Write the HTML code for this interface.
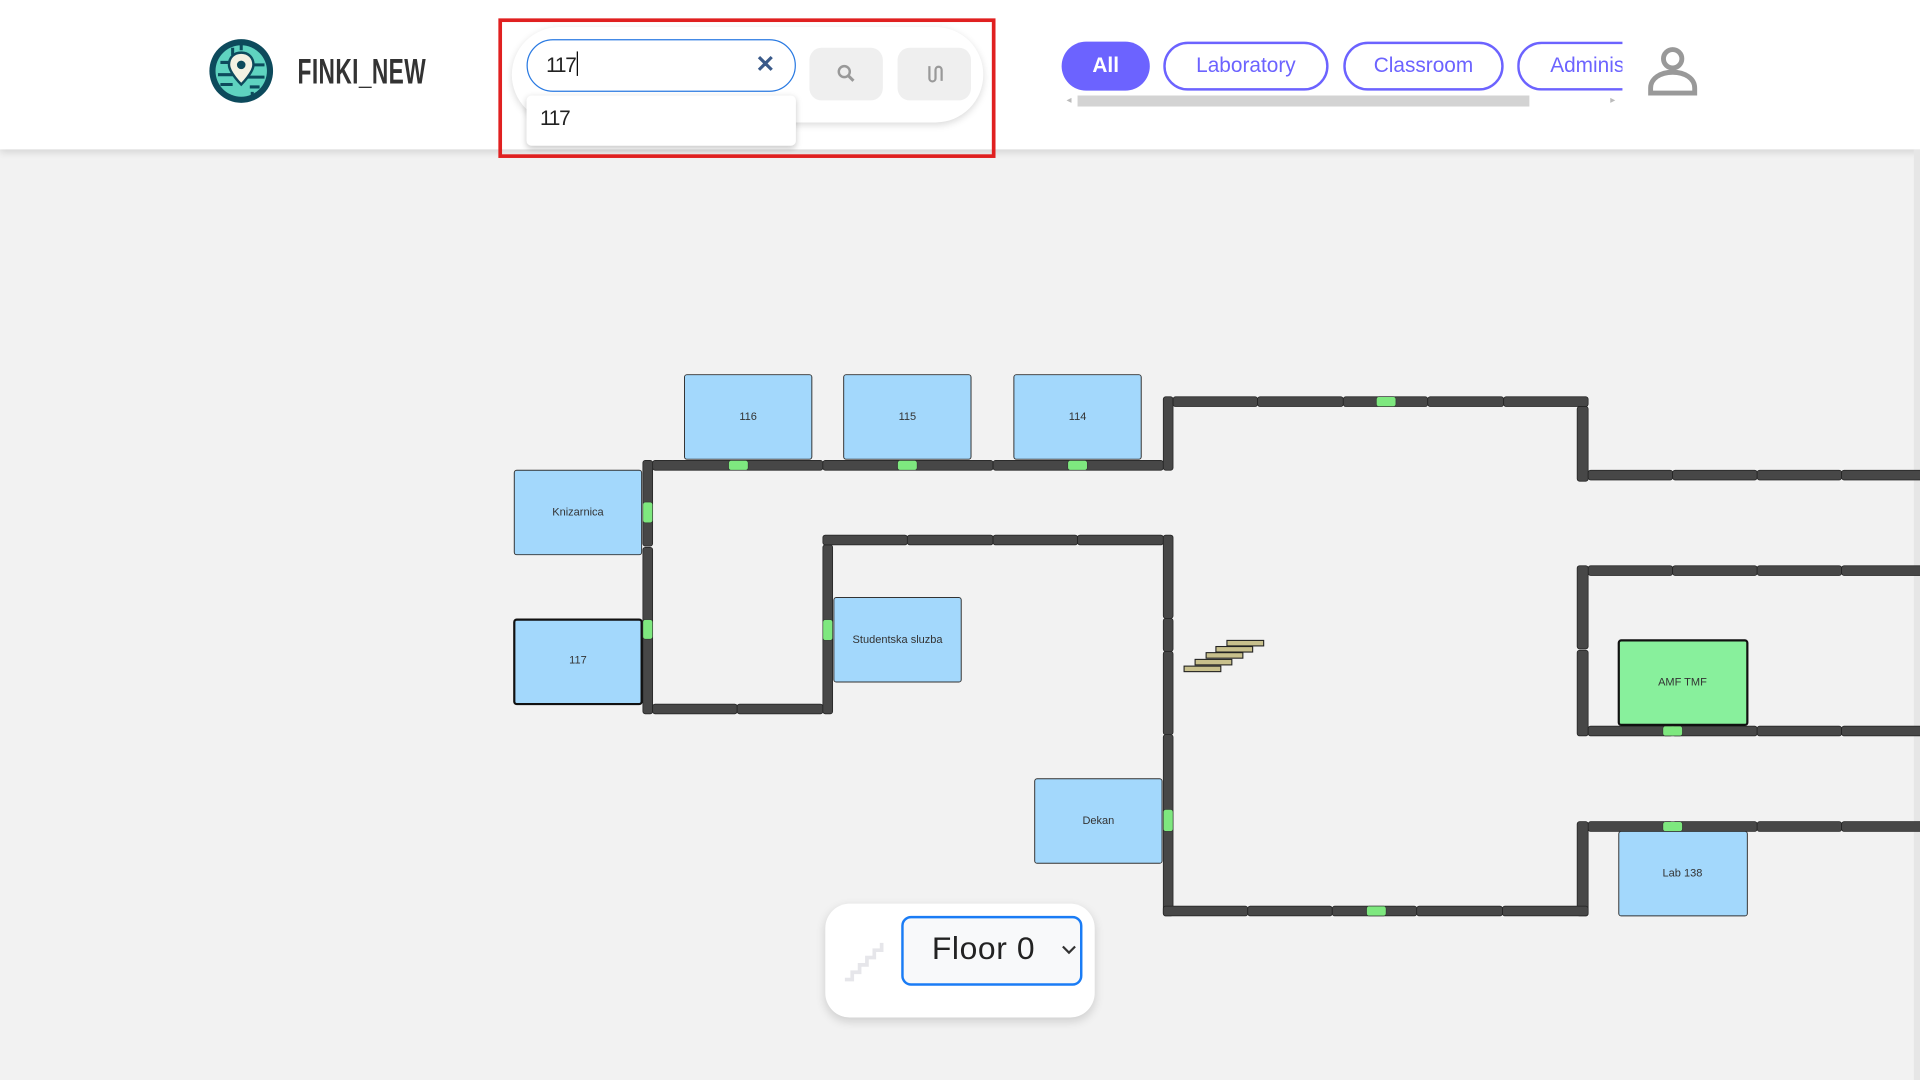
<!DOCTYPE html>
<html><head><meta charset="utf-8">
<style>
html,body{margin:0;padding:0;width:1920px;height:1080px;overflow:hidden;background:#f2f2f2;font-family:"Liberation Sans",sans-serif;}
#w{position:absolute;left:0;top:0;width:1568px;height:882px;transform:scale(1.2244898);transform-origin:0 0;}
.hdr{position:absolute;left:0;top:0;width:1568px;height:122px;background:#fff;box-shadow:0 3px 6px rgba(0,0,0,.12);}
.abs{position:absolute;}
.pill{position:absolute;top:34px;height:36px;border:2px solid #6c63ff;border-radius:21px;color:#6c63ff;font-size:17px;line-height:36px;text-align:center;box-sizing:content-box;}
</style></head><body>
<div id="w">
<div class="hdr"></div>
<svg class="abs" style="left:170px;top:31px" width="54" height="54" viewBox="0 0 54 54">
<circle cx="27" cy="27" r="26" fill="#0d4a5c"/>
<circle cx="27" cy="27" r="21" fill="#5fd3c0"/>
<path d="M10 20h12M8 30h14M10 38h10M34 22h12M32 32h14M34 40h8M27 4v6M20 8v6M36 44v6" stroke="#0d4a5c" stroke-width="2.5"/>
<path d="M27 12c-6 0-10 4-10 10 0 6 10 16 10 16s10-10 10-16c0-6-4-10-10-10z" fill="#f3f1e2" stroke="#0d4a5c" stroke-width="2"/>
<circle cx="27" cy="22" r="3.5" fill="#0d4a5c"/>
</svg>
<div class="abs" style="left:243px;top:43px;font-size:29px;font-weight:bold;color:#333;transform:scaleX(.64);transform-origin:0 0;letter-spacing:0.5px">FINKI_NEW</div>

<div class="abs" style="left:418px;top:22px;width:385px;height:78px;background:#fff;border-radius:40px;box-shadow:0 2px 6px rgba(0,0,0,.15)"></div>
<div class="abs" style="left:430px;top:32px;width:218px;height:41px;border:1.5px solid #2a7ae2;border-radius:22px;background:#fff"></div>
<div class="abs" style="left:446px;top:42px;font-size:17px;color:#222;letter-spacing:-1px">117<span style="display:inline-block;width:1px;height:20px;background:#000;vertical-align:-3px;margin-left:1px"></span></div>
<div class="abs" style="left:617px;top:42px;font-size:19px;font-weight:bold;color:#3a5a8a">✕</div>
<div class="abs" style="left:430px;top:78px;width:220px;height:41px;background:#fff;border-radius:4px;box-shadow:0 2px 5px rgba(0,0,0,.22)"></div>
<div class="abs" style="left:441px;top:87px;font-size:17px;color:#222;letter-spacing:-1px">117</div>
<div class="abs" style="left:661px;top:39px;width:60px;height:43px;background:#efefef;border-radius:10px"></div>
<svg class="abs" style="left:683px;top:52px" width="16" height="16"><circle cx="6.5" cy="6.5" r="4.5" fill="none" stroke="#999" stroke-width="2"/><path d="M10 10l4 4" stroke="#999" stroke-width="2.5"/></svg>
<div class="abs" style="left:733px;top:39px;width:60px;height:43px;background:#efefef;border-radius:10px"></div>
<svg class="abs" style="left:755px;top:52px" width="16" height="17"><path d="M4 2v10a2.5 2.5 0 0 0 5 0V5a2.5 2.5 0 0 1 5 0v9" fill="none" stroke="#999" stroke-width="1.8"/></svg>
<div class="abs" style="left:407px;top:15px;width:400px;height:108px;border:3px solid #e02020"></div>

<div class="pill" style="left:867px;width:72px;background:#6c63ff;color:#fff;border-color:#6c63ff;border-width:0;height:40px;line-height:40px;font-weight:bold">All</div>
<div class="pill" style="left:950px;width:131px">Laboratory</div>
<div class="pill" style="left:1097px;width:127px">Classroom</div>
<div class="abs" style="left:1239px;top:34px;width:86px;height:40px;overflow:hidden"><div class="pill" style="left:0;top:0;width:120px;text-align:left;text-indent:25px">Administration</div></div>
<div class="abs" style="left:880px;top:78px;width:369px;height:9px;background:#d3d3d3"></div>
<div class="abs" style="left:871px;top:77px;font-size:8px;color:#bbb">◂</div>
<div class="abs" style="left:1315px;top:77px;font-size:8px;color:#bbb">▸</div>
<svg class="abs" style="left:1345px;top:38px" width="42" height="40"><circle cx="21" cy="10" r="7.5" fill="none" stroke="#999" stroke-width="4"/><path d="M3 38v-4c0-8 8-13 18-13s18 5 18 13v4z" fill="none" stroke="#999" stroke-width="4"/></svg>
<div class="abs" style="left:1563px;top:122px;width:5px;height:760px;background:#e6e6e6"></div>

<svg class="abs" style="left:0;top:0" width="1568" height="882">
<g fill="#474747" stroke="#222" stroke-width="0.6">
<rect x="533" y="376" width="139" height="8" rx="2"/><rect x="672" y="376" width="139" height="8" rx="2"/><rect x="811" y="376" width="139" height="8" rx="2"/>
<rect x="525" y="376" width="8" height="70" rx="2"/><rect x="525" y="447" width="8" height="136" rx="2"/>
<rect x="533" y="575" width="69" height="8" rx="2"/><rect x="602" y="575" width="70" height="8" rx="2"/>
<rect x="672" y="445" width="8" height="138" rx="2"/>
<rect x="672" y="437" width="69" height="8" rx="2"/><rect x="741" y="437" width="70" height="8" rx="2"/><rect x="811" y="437" width="69" height="8" rx="2"/><rect x="880" y="437" width="70" height="8" rx="2"/>
<rect x="950" y="437" width="8" height="68" rx="2"/><rect x="950" y="505" width="8" height="27" rx="2"/><rect x="950" y="532" width="8" height="68" rx="2"/><rect x="950" y="600" width="8" height="148" rx="2"/>
<rect x="950" y="324" width="8" height="60" rx="2"/>
<rect x="958" y="324" width="69" height="8" rx="2"/><rect x="1027" y="324" width="70" height="8" rx="2"/><rect x="1097" y="324" width="69" height="8" rx="2"/><rect x="1166" y="324" width="62" height="8" rx="2"/><rect x="1228" y="324" width="69" height="8" rx="2"/>
<rect x="1288" y="332" width="9" height="61" rx="2"/>
<rect x="1297" y="384" width="69" height="8" rx="2"/><rect x="1366" y="384" width="69" height="8" rx="2"/><rect x="1435" y="384" width="69" height="8" rx="2"/><rect x="1504" y="384" width="69" height="8" rx="2"/>
<rect x="1297" y="462" width="69" height="8" rx="2"/><rect x="1366" y="462" width="69" height="8" rx="2"/><rect x="1435" y="462" width="69" height="8" rx="2"/><rect x="1504" y="462" width="69" height="8" rx="2"/>
<rect x="1288" y="462" width="9" height="68" rx="2"/><rect x="1288" y="531" width="9" height="70" rx="2"/>
<rect x="1297" y="593" width="69" height="8" rx="2"/><rect x="1366" y="593" width="69" height="8" rx="2"/><rect x="1435" y="593" width="69" height="8" rx="2"/><rect x="1504" y="593" width="69" height="8" rx="2"/>
<rect x="1297" y="671" width="69" height="8" rx="2"/><rect x="1366" y="671" width="69" height="8" rx="2"/><rect x="1435" y="671" width="69" height="8" rx="2"/><rect x="1504" y="671" width="69" height="8" rx="2"/>
<rect x="1288" y="671" width="9" height="77" rx="2"/>
<rect x="950" y="740" width="69" height="8" rx="2"/><rect x="1019" y="740" width="69" height="8" rx="2"/><rect x="1088" y="740" width="69" height="8" rx="2"/><rect x="1157" y="740" width="70" height="8" rx="2"/><rect x="1227" y="740" width="70" height="8" rx="2"/>
</g>
<g fill="#a3d8fc" stroke="#333" stroke-width="0.8">
<rect x="559" y="306" width="104" height="69" rx="2"/><rect x="689" y="306" width="104" height="69" rx="2"/><rect x="828" y="306" width="104" height="69" rx="2"/>
<rect x="420" y="384" width="104" height="69" rx="2"/>
<rect x="420" y="506" width="104" height="69" rx="2" stroke="#111" stroke-width="1.8"/>
<rect x="681" y="488" width="104" height="69" rx="2"/>
<rect x="845" y="636" width="104" height="69" rx="2"/>
<rect x="1322" y="679" width="105" height="69" rx="2"/>
<rect x="1322" y="523" width="105" height="69" rx="2" fill="#88f09c" stroke="#111" stroke-width="1.8"/>
</g>
<g fill="#7ee87f" stroke="#333" stroke-width="0.5">
<rect x="595" y="376" width="16" height="8" rx="2"/><rect x="733" y="376" width="16" height="8" rx="2"/><rect x="872" y="376" width="16" height="8" rx="2"/>
<rect x="525" y="410" width="8" height="17" rx="2"/><rect x="525" y="506" width="8" height="16" rx="2"/>
<rect x="672" y="506" width="8" height="17" rx="2"/>
<rect x="950" y="661" width="8" height="18" rx="2"/>
<rect x="1124" y="324" width="16" height="8" rx="2"/>
<rect x="1358" y="593" width="16" height="8" rx="2"/><rect x="1358" y="671" width="16" height="8" rx="2"/>
<rect x="1116" y="740" width="16" height="8" rx="2"/>
</g>
<g fill="#c8c08c" stroke="#222" stroke-width="0.9">
<rect x="1002" y="523" width="30" height="4.5"/><rect x="993" y="528" width="30" height="4.5"/><rect x="985" y="533" width="30" height="4.5"/><rect x="976" y="538.5" width="30" height="4.5"/><rect x="967" y="544" width="30" height="4.5"/>
</g>
<g font-family="Liberation Sans, sans-serif" font-size="9" fill="#333" text-anchor="middle">
<text x="611" y="343">116</text><text x="741" y="343">115</text><text x="880" y="343">114</text>
<text x="472" y="421">Knizarnica</text><text x="472" y="542">117</text>
<text x="733" y="525">Studentska sluzba</text><text x="897" y="673">Dekan</text>
<text x="1374" y="560">AMF TMF</text><text x="1374" y="716">Lab 138</text>
</g>
</svg>

<div class="abs" style="left:674px;top:738px;width:220px;height:93px;background:#fff;border-radius:20px;box-shadow:0 3px 8px rgba(0,0,0,.15)"></div>
<svg class="abs" style="left:688px;top:768px" width="36" height="34"><path d="M2 32h6v-6h6v-6h6v-6h6v-6h6V2" fill="none" stroke="#e6e6ea" stroke-width="3"/></svg>
<div class="abs" style="left:736px;top:748px;width:144px;height:53px;border:2px solid #1a7cf5;border-radius:8px;background:#f8f9fa"></div>
<div class="abs" style="left:761px;top:759px;font-size:26px;color:#222;letter-spacing:0.5px">Floor 0</div>
<svg class="abs" style="left:867px;top:772px" width="12" height="8"><path d="M1 1l5 5 5-5" fill="none" stroke="#333" stroke-width="1.8"/></svg>
</div>
</body></html>
